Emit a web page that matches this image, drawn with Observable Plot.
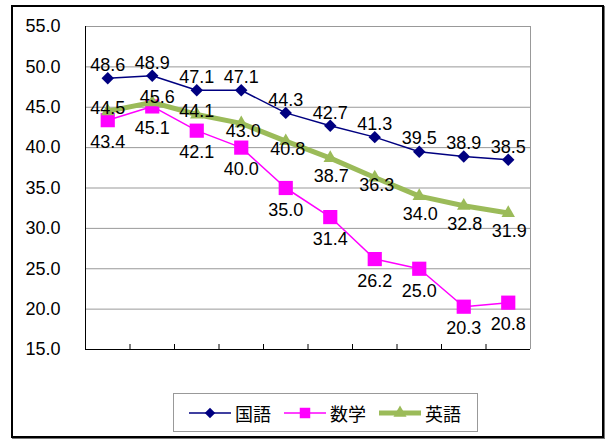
<!DOCTYPE html>
<html><head><meta charset="utf-8">
<script src="https://cdn.jsdelivr.net/npm/d3@7"></script>
<script src="https://cdn.jsdelivr.net/npm/@observablehq/plot@0.6"></script>
<style>
body{margin:0;background:#fff;}
#wrap{position:relative;width:605px;height:439px;overflow:hidden;font-family:"Liberation Sans",Arial,sans-serif;background:#fff;}
#frame{position:absolute;left:11px;top:5px;width:589px;height:429px;border:2px solid #000;box-shadow:1px 1px 0 #777;}
#chart{position:absolute;left:0;top:0;}
#legend{position:absolute;left:173px;top:393px;width:305px;height:39px;box-sizing:border-box;border:1px solid #999;display:flex;align-items:center;padding-left:15px;background:#fff;}
.item{display:flex;align-items:center;margin-right:13px;}
.item span{font-family:"Noto Sans CJK JP",sans-serif;font-size:18px;color:#000;margin-left:4px;line-height:1;}
</style></head>
<body>
<div id="wrap"><div id="frame"></div><div id="chart"></div><div id="legend"></div></div>
<script>
const periods = [1,2,3,4,5,6,7,8,9,10];
const kokugo = [48.6,48.9,47.1,47.1,44.3,42.7,41.3,39.5,38.9,38.5];
const sugaku = [43.4,45.1,42.1,40.0,35.0,31.4,26.2,25.0,20.3,20.8];
const eigo = [44.5,45.6,44.1,43.0,40.8,38.7,36.3,34.0,32.8,31.9];
const subjects = ["国語","数学","英語"];
const yTicks = [15,20,25,30,35,40,45,50,55];

const colors = {"国語":"#000080","数学":"#FF00FF","英語":"#9BBB59"};
const series = {"国語":kokugo,"数学":sugaku,"英語":eigo};
const rows = subjects.flatMap(s => periods.map((p,i)=>({subject:s, period:p, value:series[s][i], i})));
const sel = s => rows.filter(r=>r.subject===s);
const boundaries = periods.slice(0,-1).map(p=>p+0.5);
const fmt = d => d.toFixed(1);
const FS = 18;
const eng = sel("英語");
const lbl = (data, opts) => Plot.text(data, {x:"period", y:"value", text:d=>fmt(d.value), fill:"#000", fontSize:FS, ...opts});

const chart = Plot.plot({
  width:605, height:439,
  marginLeft:85, marginRight:75, marginTop:26, marginBottom:90,
  x:{type:"linear", domain:[0.5,10.5]},
  y:{domain:[15,55]},
  style:{fontFamily:"'Liberation Sans', Arial, sans-serif", fontSize:FS+"px", background:"transparent", overflow:"visible"},
  marks:[
    Plot.gridY(yTicks,{stroke:"#999", strokeOpacity:1}),
    Plot.ruleX([10.5],{stroke:"#999"}),
    Plot.axisY(yTicks,{tickSize:0, tickPadding:25, tickFormat:fmt, fontSize:FS, fill:"#000", label:null}),
    Plot.axisX(boundaries,{tickSize:-5, tickFormat:()=>"", label:null, stroke:"#000"}),
    Plot.ruleX([0.5],{stroke:"#000"}),
    Plot.ruleY([15],{stroke:"#000"}),
    Plot.line(sel("国語"),{x:"period", y:"value", stroke:colors["国語"], strokeWidth:1.5}),
    Plot.dot(sel("国語"),{x:"period", y:"value", symbol:"diamond2", r:5.6, fill:colors["国語"]}),
    Plot.line(sel("数学"),{x:"period", y:"value", stroke:colors["数学"], strokeWidth:1.5}),
    Plot.dot(sel("数学"),{x:"period", y:"value", symbol:"square", r:8, fill:colors["数学"]}),
    Plot.line(eng,{x:"period", y:"value", stroke:colors["英語"], strokeWidth:5}),
    Plot.dot(eng,{x:"period", y:"value", symbol:"triangle", r:5, fill:colors["英語"]}),
    lbl(sel("国語"),{dy:-13}),
    lbl(sel("数学"),{dy:22}),
    lbl(eng.filter(d=>d.i===0||d.i===2),{dy:-3}),
    lbl(eng.filter(d=>d.i===1),{dy:-5, dx:5}),
    lbl(eng.filter(d=>[3,4,6].includes(d.i)),{dy:8, dx:2}),
    lbl(eng.filter(d=>d.i===5||d.i>=7),{dy:18, dx:1})
  ]
});
document.getElementById("chart").appendChild(chart);

// legend
const symbols = {"国語":d3.symbolDiamond2,"数学":d3.symbolSquare,"英語":d3.symbolTriangle};
const sizes = {"国語":70,"数学":110,"英語":75};
const widths = {"国語":1.5,"数学":1.5,"英語":5};
const leg = d3.select("#legend");
for (const s of subjects) {
  const it = leg.append("div").attr("class","item");
  const svg = it.append("svg").attr("width",42).attr("height",16);
  svg.append("line").attr("x1",0).attr("x2",42).attr("y1",8).attr("y2",8).attr("stroke",colors[s]).attr("stroke-width",widths[s]);
  svg.append("path").attr("transform","translate(21,8)").attr("d",d3.symbol(symbols[s],sizes[s])()).attr("fill",colors[s]);
  it.append("span").text(s);
}
</script>
</body></html>
